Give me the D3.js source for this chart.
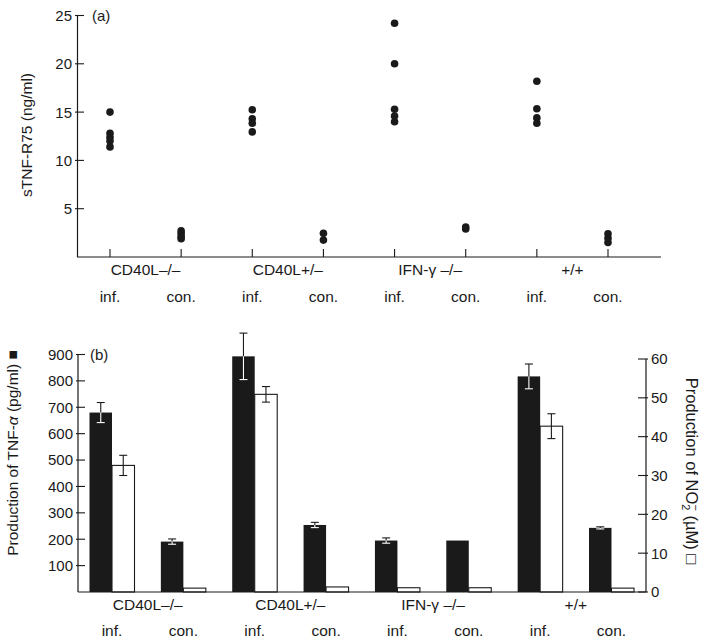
<!DOCTYPE html>
<html>
<head>
<meta charset="utf-8">
<script src="https://cdn.jsdelivr.net/npm/d3@7"></script>
<style>
  html, body { margin: 0; padding: 0; background: #fff; }
  svg text { font-family: "Liberation Sans", Arial, Helvetica, sans-serif; fill: #1a1a1a; }
</style>
</head>
<body>
<svg id="chart" width="703" height="643"></svg>
<script>
// ---------- data ----------
const groups = ["CD40L–/–", "CD40L+/–", "IFN-γ –/–", "+/+"];
const conditions = ["inf.", "con."];
const categories = ["CD40L-/- inf", "CD40L-/- con", "CD40L+/- inf", "CD40L+/- con",
                    "IFN-g-/- inf", "IFN-g-/- con", "+/+ inf", "+/+ con"];

// panel (a): sTNF-R75 (ng/ml), individual animals
const sTNF = [
  [15.0, 12.8, 12.4, 12.0, 11.4],
  [2.7, 2.4, 2.1, 1.9],
  [15.25, 14.3, 13.85, 12.95],
  [2.45, 1.75],
  [24.2, 20.0, 15.3, 14.6, 14.0],
  [3.1, 2.9],
  [18.2, 15.35, 14.4, 13.85],
  [2.4, 1.95, 1.5]
];
const topTicks = [5, 10, 15, 20, 25];

// panel (b): TNF-alpha (pg/ml) black bars, NO2- (uM) white bars
const tnfMean = [680, 191, 893, 254, 195, 195, 817, 243];
const tnfErr  = [38, 10, 88, 10, 10, 0, 47, 4];
const no2Mean = [32.6, 1.0, 50.9, 1.3, 1.1, 1.1, 42.7, 1.0];
const no2Err  = [2.6, 0, 2.0, 0, 0, 0, 3.2, 0];
const leftTicks = [100, 200, 300, 400, 500, 600, 700, 800, 900];
const rightTicks = [0, 10, 20, 30, 40, 50, 60];

// ---------- drawing ----------
const svg = d3.select("#chart");
const ink = "#1a1a1a";

// ===== Panel (a) =====
const xa = d3.scalePoint().domain(categories).range([110, 608]);
const ya = d3.scaleLinear().domain([0, 25]).range([257, 15.5]);
const ga = svg.append("g");

ga.append("line").attr("x1", 77.5).attr("x2", 77.5).attr("y1", ya(0)).attr("y2", ya(25))
  .attr("stroke", ink).attr("stroke-width", 1.2);
ga.append("line").attr("x1", 77).attr("x2", 661).attr("y1", ya(0)).attr("y2", ya(0))
  .attr("stroke", ink).attr("stroke-width", 1.2);

const yaT = ga.selectAll(".yt").data(topTicks).enter().append("g");
yaT.append("line").attr("x1", 75).attr("x2", 84).attr("y1", d => ya(d)).attr("y2", d => ya(d))
  .attr("stroke", ink).attr("stroke-width", 1.1);
yaT.append("text").attr("x", 72).attr("y", d => ya(d)).attr("dy", "0.36em")
  .attr("text-anchor", "end").attr("font-size", 15).text(d => d);

ga.selectAll(".xt").data(categories).enter().append("line")
  .attr("x1", d => xa(d)).attr("x2", d => xa(d)).attr("y1", ya(0)).attr("y2", ya(0) - 8)
  .attr("stroke", ink).attr("stroke-width", 1.1);

sTNF.forEach((vals, i) => {
  ga.selectAll(null).data(vals).enter().append("circle")
    .attr("cx", xa(categories[i])).attr("cy", d => ya(d)).attr("r", 3.8)
    .attr("fill", ink);
});

ga.append("text").attr("x", 92).attr("y", ya(25)).attr("dy", "0.36em")
  .attr("font-size", 15).text("(a)");

function catLabels(g, xs, yGroup, yCond) {
  groups.forEach((name, gi) => {
    const c0 = xs(categories[gi * 2]), c1 = xs(categories[gi * 2 + 1]);
    g.append("text").attr("x", (c0 + c1) / 2).attr("y", yGroup)
      .attr("text-anchor", "middle").attr("font-size", 15.5).text(name);
  });
  categories.forEach((c, i) => {
    g.append("text").attr("x", xs(c)).attr("y", yCond)
      .attr("text-anchor", "middle").attr("font-size", 15.5).text(conditions[i % 2]);
  });
}
catLabels(ga, xa, 275, 301.5);

ga.append("text").attr("transform", "translate(32,135) rotate(-90)")
  .attr("text-anchor", "middle").attr("font-size", 15.5).text("sTNF-R75 (ng/ml)");

// ===== Panel (b) =====
const xb = d3.scalePoint().domain(categories).range([112, 611.5]);
const yl = d3.scaleLinear().domain([0, 900]).range([592, 354.5]);
const yr = d3.scaleLinear().domain([0, 60]).range([592, 359]);
const bw = 22.5;
const gb = svg.append("g");

gb.selectAll(".tb").data(tnfMean).enter().append("rect")
  .attr("x", (d, i) => xb(categories[i]) - bw).attr("width", bw)
  .attr("y", d => yl(d)).attr("height", d => yl(0) - yl(d))
  .attr("fill", ink);

gb.selectAll(".nb").data(no2Mean).enter().append("rect")
  .attr("x", (d, i) => xb(categories[i])).attr("width", bw)
  .attr("y", d => yr(d)).attr("height", d => yr(0) - yr(d))
  .attr("fill", "#fff").attr("stroke", ink).attr("stroke-width", 1.1);

function errBars(means, errs, ys, offset, color) {
  means.forEach((m, i) => {
    const e = errs[i];
    if (!e) return;
    const cx = xb(categories[i]) + offset;
    const g = gb.append("g").attr("stroke", color).attr("stroke-width", 1.1);
    g.append("line").attr("x1", cx).attr("x2", cx).attr("y1", ys(m - e)).attr("y2", ys(m + e));
    g.append("line").attr("x1", cx - 4).attr("x2", cx + 4).attr("y1", ys(m + e)).attr("y2", ys(m + e));
    g.append("line").attr("x1", cx - 4).attr("x2", cx + 4).attr("y1", ys(m - e)).attr("y2", ys(m - e));
  });
}
tnfMean.forEach((m, i) => {
  const e = tnfErr[i];
  if (!e) return;
  const cx = xb(categories[i]) - bw / 2;
  const g = gb.append("g").attr("stroke-width", 1.1);
  g.append("line").attr("x1", cx).attr("x2", cx).attr("y1", yl(m)).attr("y2", yl(m + e)).attr("stroke", ink);
  g.append("line").attr("x1", cx - 4).attr("x2", cx + 4).attr("y1", yl(m + e)).attr("y2", yl(m + e)).attr("stroke", ink);
  g.append("line").attr("x1", cx).attr("x2", cx).attr("y1", yl(m)).attr("y2", yl(m - e)).attr("stroke", "#fff");
  g.append("line").attr("x1", cx - 4).attr("x2", cx + 4).attr("y1", yl(m - e)).attr("y2", yl(m - e)).attr("stroke", "#fff");
});
errBars(no2Mean, no2Err, yr, bw / 2, ink);

gb.append("line").attr("x1", 78).attr("x2", 78).attr("y1", 592).attr("y2", yl(900))
  .attr("stroke", ink).attr("stroke-width", 1.2);
gb.append("line").attr("x1", 646).attr("x2", 646).attr("y1", 592).attr("y2", yr(60))
  .attr("stroke", ink).attr("stroke-width", 1.2);
gb.append("line").attr("x1", 78).attr("x2", 646).attr("y1", 592).attr("y2", 592)
  .attr("stroke", ink).attr("stroke-width", 1.2);

const ylT = gb.selectAll(".lt").data(leftTicks).enter().append("g");
ylT.append("line").attr("x1", 76).attr("x2", 85).attr("y1", d => yl(d)).attr("y2", d => yl(d))
  .attr("stroke", ink).attr("stroke-width", 1.1);
ylT.append("text").attr("x", 73).attr("y", d => yl(d)).attr("dy", "0.36em")
  .attr("text-anchor", "end").attr("font-size", 15).text(d => d);

const yrT = gb.selectAll(".rt").data(rightTicks).enter().append("g");
yrT.append("line").attr("x1", 638).attr("x2", 648).attr("y1", d => yr(d)).attr("y2", d => yr(d))
  .attr("stroke", ink).attr("stroke-width", 1.1);
yrT.append("text").attr("x", 651).attr("y", d => yr(d)).attr("dy", "0.36em")
  .attr("text-anchor", "start").attr("font-size", 15).text(d => d);

gb.append("text").attr("x", 90).attr("y", yl(900)).attr("dy", "0.36em")
  .attr("font-size", 15).text("(b)");

catLabels(gb, xb, 610, 635.5);

const lt = gb.append("text").attr("transform", "translate(18,453) rotate(-90)")
  .attr("text-anchor", "middle").attr("font-size", 15.5);
lt.append("tspan").text("Production of TNF-");
lt.append("tspan").attr("font-style", "italic").text("α");
lt.append("tspan").text(" (pg/ml) ■");

const rt = gb.append("text").attr("transform", "translate(686,471) rotate(90)")
  .attr("text-anchor", "middle").attr("font-size", 16.5);
rt.append("tspan").text("Production of NO");
rt.append("tspan").attr("font-size", 11).attr("dy", 4).text("2");
rt.append("tspan").attr("font-size", 11).attr("dy", -10).attr("dx", -6).text("−");
rt.append("tspan").attr("dy", 6).text(" (µM) □");
</script>
</body>
</html>
